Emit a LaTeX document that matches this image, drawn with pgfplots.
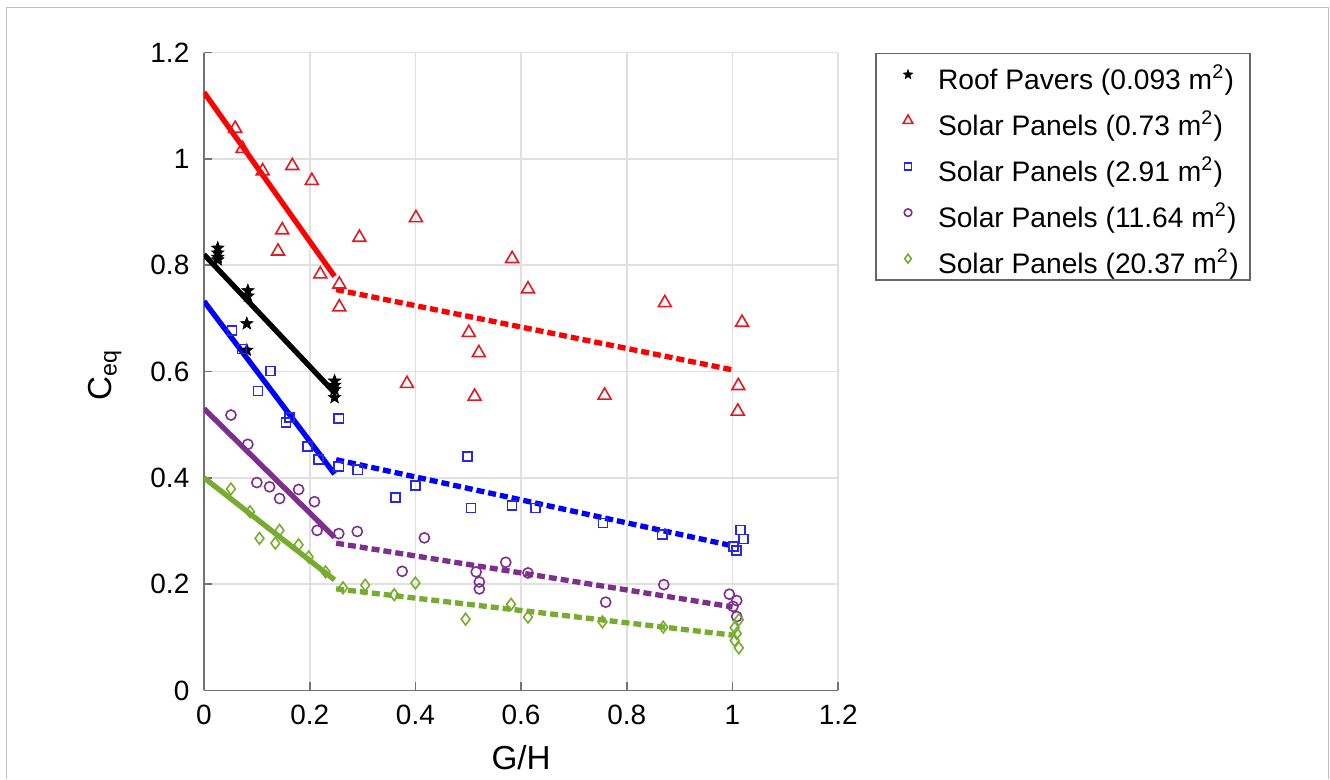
\documentclass[border=0pt]{standalone}
\usepackage{pgfplots}
\pgfplotsset{compat=1.18}
\usepackage{fontspec}
\setmainfont{Liberation Sans}
\definecolor{cred}{RGB}{225,25,35}
\definecolor{lred}{RGB}{255,0,0}
\definecolor{cblue}{RGB}{40,40,220}
\definecolor{lblue}{RGB}{0,0,255}
\definecolor{cpurp}{RGB}{126,47,142}
\definecolor{cgreen}{RGB}{119,172,48}
\pgfdeclareplotmark{fstar}{%
  \pgfmathsetlengthmacro\rin{0.42*\pgfplotmarksize}%
  \pgfpathmoveto{\pgfpointpolar{90}{\pgfplotmarksize}}%
  \pgfpathlineto{\pgfpointpolar{126}{\rin}}%
  \pgfpathlineto{\pgfpointpolar{162}{\pgfplotmarksize}}%
  \pgfpathlineto{\pgfpointpolar{198}{\rin}}%
  \pgfpathlineto{\pgfpointpolar{234}{\pgfplotmarksize}}%
  \pgfpathlineto{\pgfpointpolar{270}{\rin}}%
  \pgfpathlineto{\pgfpointpolar{306}{\pgfplotmarksize}}%
  \pgfpathlineto{\pgfpointpolar{342}{\rin}}%
  \pgfpathlineto{\pgfpointpolar{18}{\pgfplotmarksize}}%
  \pgfpathlineto{\pgfpointpolar{54}{\rin}}%
  \pgfpathclose
  \pgfusepathqfillstroke}
\begin{document}
\begin{tikzpicture}
\begin{axis}[
  scale only axis, width=238.4pt, height=239.8pt,
  xmin=0, xmax=1.2, ymin=0, ymax=1.2,
  xtick={0,0.2,...,1.2}, ytick={0,0.2,...,1.2},
  axis lines*=left,
  axis line style={black!55, line width=0.6pt},
  tick style={black!55, line width=0.6pt},
  major tick length=3pt, tick align=inside,
  grid=major, major grid style={black!12, line width=0.6pt},
  /pgf/number format/assume math mode=true,
  ticklabel style={font=\fontsize{10.5}{12}\selectfont},
  xticklabel style={yshift=-2pt},
  yticklabel style={xshift=-2pt},
  every axis x label/.style={at={(rel axis cs:0.5,-0.106)},anchor=center},
  every axis y label/.style={at={(rel axis cs:-0.156,0.494)},anchor=center,rotate=90},
  label style={font=\fontsize{12.5}{14}\selectfont},
  xlabel={G/H}, ylabel={C\textsubscript{eq}},
  legend style={at={(rel axis cs:1.058,1.0)}, anchor=north west,
    draw=black!60, line width=0.6pt, fill=white,
    font=\fontsize{10.6}{12}\selectfont,
    row sep=3.8pt, inner xsep=3pt, inner ysep=1.25pt,
    /tikz/every odd column/.append style={column sep=8.2pt},
    nodes={text height=11pt, text depth=0pt, inner sep=1.25pt}},
  legend cell align=left,
  legend image code/.code={\path (0.24cm,0cm);\draw[mark repeat=2,mark phase=2,#1,/tikz/every mark/.append style={scale=0.75}] plot coordinates {(0.2cm,0cm) (0.55cm,0cm) (0.9cm,0cm)};},
]
% markers
\addplot[only marks, mark=fstar, mark size=2.5pt, black, fill=black, line width=0.2pt] coordinates {
(0.026,0.832)(0.026,0.823)(0.026,0.815)(0.026,0.810)
(0.083,0.752)(0.083,0.742)(0.081,0.690)(0.081,0.640)
(0.247,0.582)(0.247,0.574)(0.247,0.566)(0.247,0.551)};
\addlegendentry{Roof Pavers (0.093 m\textsuperscript{2})}
\addplot[only marks, mark=triangle, mark size=2.8pt, cred, mark options={line width=0.6pt}] coordinates {
(0.059,1.057)(0.073,1.019)(0.111,0.977)(0.167,0.987)(0.204,0.959)
(0.148,0.866)(0.140,0.826)(0.220,0.783)(0.256,0.764)(0.256,0.721)
(0.294,0.852)(0.401,0.889)(0.583,0.812)(0.613,0.755)(0.501,0.673)
(0.520,0.635)(0.384,0.577)(0.512,0.553)(0.758,0.555)(0.872,0.729)
(1.018,0.692)(1.011,0.573)(1.010,0.525)};
\addlegendentry{Solar Panels (0.73 m\textsuperscript{2})}
\addplot[only marks, mark=square, mark size=1.7pt, cblue, mark options={line width=0.6pt}] coordinates {
(0.053,0.677)(0.072,0.642)(0.126,0.601)(0.102,0.563)(0.162,0.513)
(0.155,0.504)(0.255,0.511)(0.196,0.459)(0.217,0.434)(0.255,0.421)
(0.291,0.415)(0.400,0.385)(0.362,0.363)(0.499,0.440)(0.505,0.343)
(0.583,0.348)(0.627,0.343)(0.755,0.315)(0.867,0.293)(1.015,0.302)
(1.021,0.285)(1.002,0.271)(1.008,0.263)};
\addlegendentry{Solar Panels (2.91 m\textsuperscript{2})}
\addplot[only marks, mark=o, mark size=1.9pt, cpurp, mark options={line width=0.6pt}] coordinates {
(0.051,0.518)(0.083,0.463)(0.100,0.391)(0.124,0.383)(0.143,0.361)
(0.179,0.378)(0.209,0.355)(0.214,0.301)(0.255,0.295)(0.290,0.299)
(0.375,0.224)(0.417,0.287)(0.515,0.223)(0.521,0.204)(0.521,0.191)
(0.571,0.241)(0.613,0.221)(0.760,0.166)(0.870,0.199)(0.994,0.181)
(1.008,0.169)(1.001,0.158)(1.008,0.139)};
\addlegendentry{Solar Panels (11.64 m\textsuperscript{2})}
\addplot[only marks, mark=diamond, mark size=2.2pt, cgreen, mark options={line width=0.6pt}] coordinates {
(0.051,0.379)(0.087,0.336)(0.105,0.286)(0.135,0.277)(0.143,0.301)
(0.179,0.274)(0.198,0.251)(0.230,0.223)(0.263,0.193)(0.305,0.198)
(0.360,0.180)(0.400,0.202)(0.495,0.134)(0.581,0.162)(0.613,0.138)
(0.754,0.129)(0.869,0.119)(1.012,0.133)(1.004,0.118)(1.008,0.107)
(1.004,0.094)(1.012,0.080)};
\addlegendentry{Solar Panels (20.37 m\textsuperscript{2})}
% fitted lines
\addplot[forget plot, lred, line width=2pt] coordinates {(0,1.125)(0.247,0.779)};
\addplot[forget plot, lred, line width=2pt, dash pattern=on 3pt off 1.5pt] coordinates {(0.25,0.754)(1.0,0.603)};
\addplot[forget plot, black, line width=2pt] coordinates {(0,0.820)(0.247,0.560)};
\addplot[forget plot, lblue, line width=2pt] coordinates {(0,0.732)(0.247,0.407)};
\addplot[forget plot, lblue, line width=2pt, dash pattern=on 3pt off 1.5pt] coordinates {(0.25,0.434)(1.0,0.272)};
\addplot[forget plot, cpurp, line width=2pt] coordinates {(0,0.530)(0.247,0.288)};
\addplot[forget plot, cpurp, line width=2pt, dash pattern=on 3pt off 1.5pt] coordinates {(0.25,0.277)(1.0,0.157)};
\addplot[forget plot, cgreen, line width=2pt] coordinates {(0,0.400)(0.247,0.208)};
\addplot[forget plot, cgreen, line width=2pt, dash pattern=on 3pt off 1.5pt] coordinates {(0.25,0.191)(1.0,0.104)};
\coordinate (bbSW) at (rel axis cs:-0.3217,-0.1391);
\coordinate (bbNE) at (rel axis cs:1.7755,1.0823);
\coordinate (frSW) at (rel axis cs:-0.3111,-0.1391);
\coordinate (frNW) at (rel axis cs:-0.3111,1.0702);
\coordinate (frNE) at (rel axis cs:1.7731,1.0702);
\coordinate (frSE) at (rel axis cs:1.7731,-0.1391);
\end{axis}
\draw[black!25, line width=0.4pt] (frSW) -- (frNW) -- (frNE) -- (frSE);
\pgfresetboundingbox
\useasboundingbox (bbSW) rectangle (bbNE);
\end{tikzpicture}
\end{document}
